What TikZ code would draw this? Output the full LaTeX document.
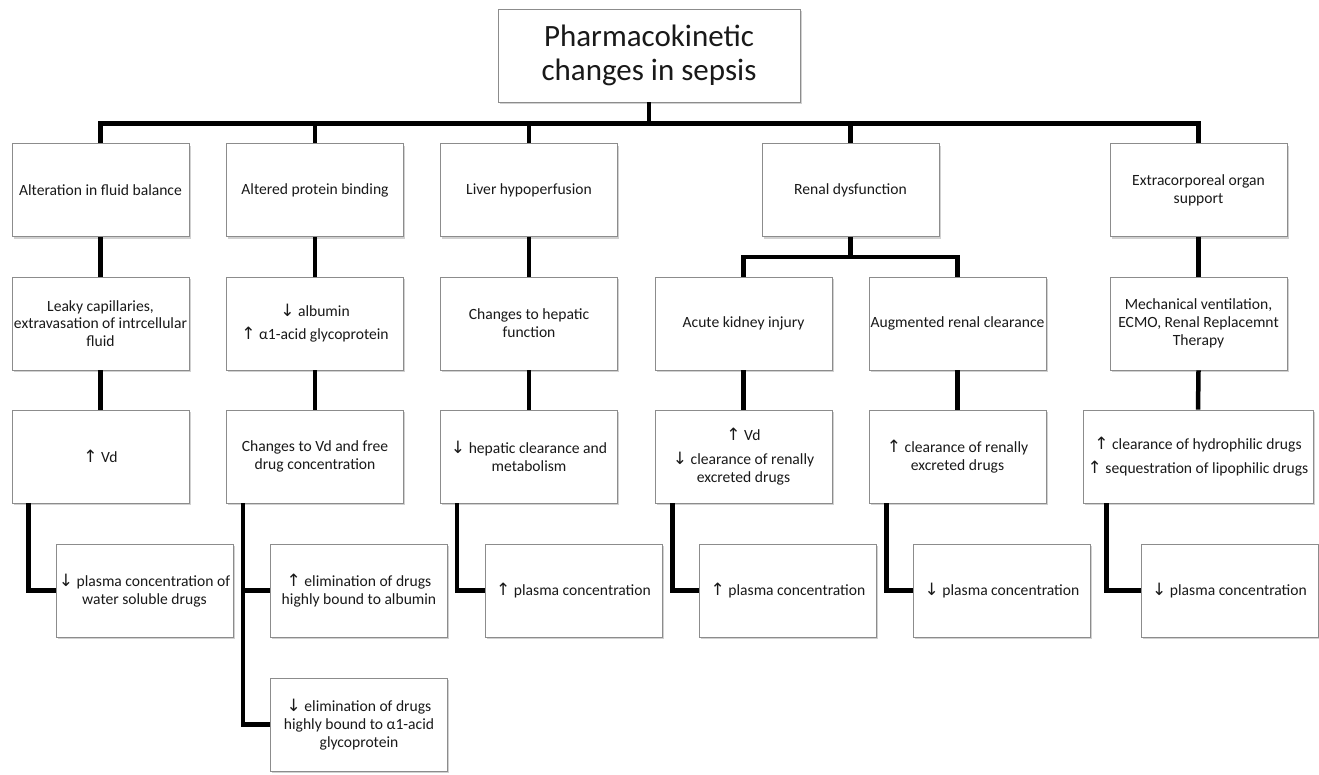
\documentclass[tikz,border=0pt]{standalone}
\usepackage{fontspec}
\setmainfont{Carlito}
\newfontfamily\arrowfont{DejaVu Sans}
\usetikzlibrary{shadows}
\newcommand\UA{{\arrowfont\fontsize{17}{17}\selectfont ↑}}
\newcommand\DA{{\arrowfont\fontsize{17}{17}\selectfont ↓}}
\begin{document}
\begin{tikzpicture}[x=1pt,y=-1pt,
  box/.style={draw=black!45, line width=0.8pt, fill=white, inner sep=0pt, align=center,
    minimum width=177pt, minimum height=93pt, font=\fontsize{15.6}{17.8}\selectfont, text=black!90,
    drop shadow={shadow xshift=1.5pt, shadow yshift=-2pt, fill=black!30, opacity=0.6}},
  conn/.style={line width=4.5pt, black}]
\useasboundingbox (0,0) rectangle (1319,774);
% title
\node[box, minimum width=302pt, minimum height=93pt, font=\fontsize{31}{34}\selectfont] (title) at (649,55.5) {Pharmacokinetic\\changes in sepsis};
% row 1
\node[box] (a1) at (100.5,190) {Alteration in fluid balance};
\node[box] (a2) at (315,190) {Altered protein binding};
\node[box] (a3) at (529,190) {Liver hypoperfusion};
\node[box] (a4) at (850.5,190) {Renal dysfunction};
\node[box] (a5) at (1198.5,190) {Extracorporeal organ\\support};
% row 2
\node[box] (b1) at (100.5,323.5) {Leaky capillaries,\\extravasation of intrcellular\\fluid};
\node[box] (b2) at (315,323.5) {\DA{} albumin\\[5pt]\UA{} α1-acid glycoprotein};
\node[box] (b3) at (529,323.5) {Changes to hepatic\\function};
\node[box] (b4) at (743.5,323.5) {Acute kidney injury};
\node[box] (b5) at (957.5,323.5) {Augmented renal clearance};
\node[box] (b6) at (1198.5,323.5) {Mechanical ventilation,\\ECMO, Renal Replacemnt\\Therapy};
% row 3
\node[box] (c1) at (100.5,456.5) {\UA{} Vd};
\node[box] (c2) at (315,456.5) {Changes to Vd and free\\drug concentration};
\node[box] (c3) at (529,456.5) {\DA{} hepatic clearance and\\metabolism};
\node[box] (c4) at (743.5,456.5) {\UA{} Vd\\[6pt]\DA{} clearance of renally\\excreted drugs};
\node[box] (c5) at (957.5,456.5) {\UA{} clearance of renally\\excreted drugs};
\node[box, minimum width=230pt] (c6) at (1198,456.5) {\UA{} clearance of hydrophilic drugs\\[6pt]\UA{} sequestration of lipophilic drugs};
% row 4
\node[box] (d1) at (144.5,590.5) {\DA{} plasma concentration of\\water soluble drugs};
\node[box] (d2) at (359,590.5) {\UA{} elimination of drugs\\highly bound to albumin};
\node[box] (d3) at (573.5,590.5) {\UA{} plasma concentration};
\node[box] (d4) at (788,590.5) {\UA{} plasma concentration};
\node[box] (d5) at (1002,590.5) {\DA{} plasma concentration};
\node[box] (d6) at (1229.5,590.5) {\DA{} plasma concentration};
% row 5
\node[box] (e2) at (359,724.5) {\DA{} elimination of drugs\\highly bound to α1-acid\\glycoprotein};
% connectors
\foreach \n in {a1,a2,a3,a4,a5}
  \draw[conn] (title.south) -- ++(0,21) -| (\n.north);
\draw[conn] (a1.south) -- (b1.north);
\draw[conn] (a2.south) -- (b2.north);
\draw[conn] (a3.south) -- (b3.north);
\draw[conn] (a4.south) -- ++(0,20) -| (b4.north);
\draw[conn] (a4.south) -- ++(0,20) -| (b5.north);
\draw[conn] (a5.south) -- (b6.north);
\foreach \i in {1,...,6}
  \draw[conn] (b\i.south) -- (c\i.north);
\draw[conn] ([xshift=17pt]c1.south west) |- (d1.west);
\draw[conn] ([xshift=17pt]c2.south west) |- (d2.west);
\draw[conn] ([xshift=17pt]c2.south west) |- (e2.west);
\draw[conn] ([xshift=17pt]c3.south west) |- (d3.west);
\draw[conn] ([xshift=18pt]c4.south west) |- (d4.west);
\draw[conn] ([xshift=18pt]c5.south west) |- (d5.west);
\draw[conn] ([xshift=24pt]c6.south west) |- (d6.west);
\end{tikzpicture}
\end{document}
